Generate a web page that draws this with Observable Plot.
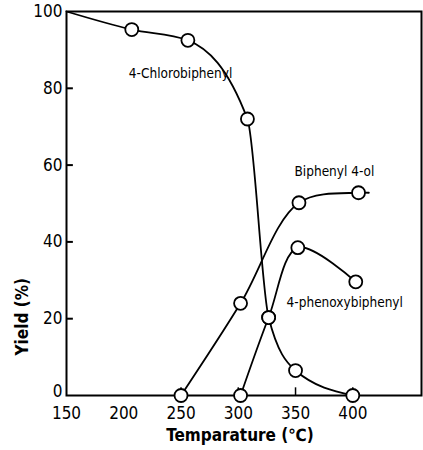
<!DOCTYPE html>
<html>
<head>
<meta charset="utf-8">
<script src="https://cdn.jsdelivr.net/npm/d3@7"></script>
<script src="https://cdn.jsdelivr.net/npm/@observablehq/plot@0.6"></script>
<style>
  html, body { margin: 0; padding: 0; background: #fff; }
  svg { font-family: "DejaVu Sans Condensed", "DejaVu Sans", sans-serif; font-stretch: condensed; }
  svg text { font-stretch: condensed; }
</style>
</head>
<body>
<div id="chart"></div>
<script>
// Temperature (°C) and yield (%)
const chloroT = [150, 207, 256, 308, 326.5, 350, 400];
const chloroY = [100, 95.3, 92.5, 72, 20.3, 6.5, 0];
const chloroMarked = [false, true, true, true, true, true, true];

const biphenolT = [250, 302, 353, 405, 414];
const biphenolY = [0, 24, 50.2, 52.8, 52.8];
const biphenolMarked = [true, true, true, true, false];

const phenoxyT = [302, 326.5, 352, 402.6];
const phenoxyY = [0, 20.3, 38.5, 29.6];

const xTicks = [150, 200, 250, 300, 350, 400];
const xTickMarks = [250, 300, 350, 400];
const yTicks = [0, 20, 40, 60, 80, 100];

const labelText = ["4-Chlorobiphenyl", "Biphenyl 4-ol", "4-phenoxybiphenyl"];
const labelT = [249.6, 384, 393];
const labelY = [83.9, 58.4, 24.2];

const toRows = (xs, ys) => xs.map((x, i) => ({x, y: ys[i]}));
const chloro = toRows(chloroT, chloroY);
const biphenol = toRows(biphenolT, biphenolY);
const phenoxy = toRows(phenoxyT, phenoxyY);
const markers = [
  ...chloro.filter((d, i) => chloroMarked[i]),
  ...biphenol.filter((d, i) => biphenolMarked[i]),
  ...phenoxy
];
const labels = labelText.map((t, i) => ({t, x: labelT[i], y: labelY[i]}));

const chart = Plot.plot({
  width: 423,
  height: 450,
  marginLeft: 66,
  marginRight: 2,
  marginTop: 11,
  marginBottom: 55,
  x: {domain: [150, 460]},
  y: {domain: [0, 100]},
  marks: [
    Plot.axisX({ticks: xTicks, tickSize: 0, tickPadding: 11, fontSize: 17, label: null, color: "#000"}),
    Plot.axisY({ticks: yTicks.filter(v => v > 0), tickSize: 0, tickPadding: 4, fontSize: 17, label: null, color: "#000"}),
    Plot.axisY({ticks: yTicks.filter(v => v === 0), tickSize: 0, tickPadding: 4, fontSize: 17, dy: -4, label: null, color: "#000"}),
    Plot.ruleY(yTicks.filter(v => v > 0 && v < 100), {x1: 150, x2: 156, stroke: "#000", strokeWidth: 2}),
    Plot.ruleX(xTickMarks, {y1: 0, y2: 2, stroke: "#000", strokeWidth: 1.5}),
    Plot.frame({stroke: "#000", strokeWidth: 2}),
    Plot.line(chloro, {x: "x", y: "y", curve: "monotone-x", stroke: "#000", strokeWidth: 1.8}),
    Plot.line(biphenol, {x: "x", y: "y", curve: "catmull-rom", stroke: "#000", strokeWidth: 1.8}),
    Plot.line(phenoxy, {x: "x", y: "y", curve: "catmull-rom", stroke: "#000", strokeWidth: 1.8}),
    Plot.dot(markers, {x: "x", y: "y", r: 6.5, fill: "#fff", stroke: "#000", strokeWidth: 1.8}),
    Plot.text(labels, {x: "x", y: "y", text: "t", fontSize: 13.5, fill: "#000"}),
    Plot.text(["Temparature (℃)"], {frameAnchor: "bottom", dx: -4, dy: 45, fontSize: 17, fontWeight: "bold", fill: "#000"}),
    Plot.text(["Yield (%)"], {frameAnchor: "left", rotate: -90, dx: -44, dy: 152, fontSize: 17, fontWeight: "bold", fill: "#000"})
  ]
});
document.getElementById("chart").appendChild(chart);
</script>
</body>
</html>
